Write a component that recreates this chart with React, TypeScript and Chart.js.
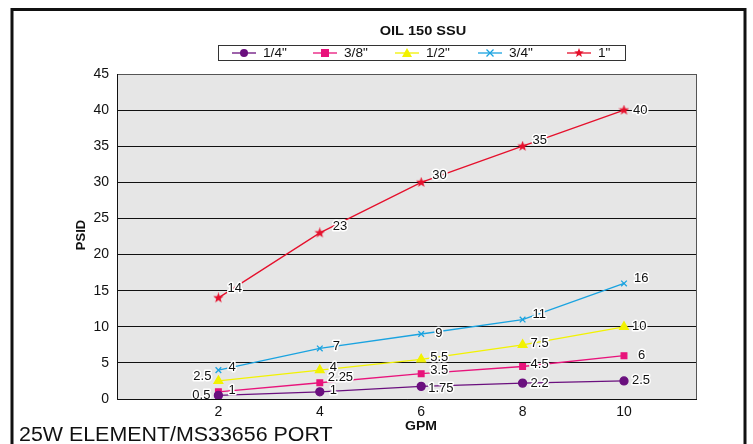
import React, { useEffect, useRef } from "react";
import { Chart, registerables } from "chart.js";
Chart.register(...registerables);

// ---- data ----
const gpm = [2, 4, 6, 8, 10];
const seriesNames = ['1/4"', '3/8"', '1/2"', '3/4"', '1"'];
const quarterInch = [0.5, 1, 1.75, 2.2, 2.5];
const threeEighthInch = [1, 2.25, 3.5, 4.5, 6];
const halfInch = [2.5, 4, 5.5, 7.5, 10];
const threeQuarterInch = [4, 7, 9, 11, 16];
const oneInch = [14, 23, 30, 35, 40];
const xTickValues = [2, 4, 6, 8, 10];
const yTickValues = [0, 5, 10, 15, 20, 25, 30, 35, 40, 45];
const titleText = "OIL 150 SSU";
const xTitle = "GPM";
const yTitle = "PSID";
const footerText = "25W ELEMENT/MS33656 PORT";

// ---- styles ----
const colors = ["#6a0f7e", "#e8137b", "#f2f200", "#1aa3e0", "#e5102c"];
const FONT = "'Liberation Sans', Arial, Helvetica, sans-serif";
// label offsets [dx, dy, align] per series per point
const labelOffsets: [number, number, CanvasTextAlign][][] = [
  [[-8, 0, "right"], [10, -1, "left"], [7, 2, "left"], [8, 0, "left"], [8, -1, "left"]],
  [[10, -1, "left"], [8, -5, "left"], [9, -3, "left"], [8, -2, "left"], [14, 0, "left"]],
  [[-7, -5, "right"], [10, -3, "left"], [9, -2, "left"], [8, -1, "left"], [8, 0, "left"]],
  [[10, -3, "left"], [13, -2, "left"], [14, -1, "left"], [10, -5, "left"], [10, -5, "left"]],
  [[9, -9, "left"], [13, -6, "left"], [11, -7, "left"], [10, -6, "left"], [9, 0, "left"]],
];

function makeStar(size: number, color: string) {
  const c = document.createElement("canvas");
  c.width = size;
  c.height = size;
  const ctx = c.getContext("2d")!;
  drawStar(ctx, size / 2, size / 2, size / 2, color);
  return c;
}
function drawStar(ctx: CanvasRenderingContext2D, cx: number, cy: number, r: number, color: string) {
  ctx.save();
  ctx.beginPath();
  for (let i = 0; i < 10; i++) {
    const rad = i % 2 === 0 ? r : r * 0.42;
    const a = -Math.PI / 2 + (i * Math.PI) / 5;
    const x = cx + rad * Math.cos(a);
    const y = cy + rad * Math.sin(a);
    if (i === 0) ctx.moveTo(x, y);
    else ctx.lineTo(x, y);
  }
  ctx.closePath();
  ctx.fillStyle = color;
  ctx.fill();
  ctx.restore();
}

function drawMarker(ctx: CanvasRenderingContext2D, i: number, x: number, y: number) {
  ctx.save();
  ctx.fillStyle = colors[i];
  ctx.strokeStyle = colors[i];
  ctx.lineWidth = 1.3;
  if (i === 0) {
    ctx.beginPath();
    ctx.arc(x, y, 4, 0, Math.PI * 2);
    ctx.fill();
  } else if (i === 1) {
    ctx.fillRect(x - 4, y - 4, 8, 8);
  } else if (i === 2) {
    ctx.beginPath();
    ctx.moveTo(x, y - 5);
    ctx.lineTo(x + 5, y + 4);
    ctx.lineTo(x - 5, y + 4);
    ctx.closePath();
    ctx.fill();
  } else if (i === 3) {
    ctx.beginPath();
    ctx.moveTo(x - 3.5, y - 3.5);
    ctx.lineTo(x + 3.5, y + 3.5);
    ctx.moveTo(x + 3.5, y - 3.5);
    ctx.lineTo(x - 3.5, y + 3.5);
    ctx.stroke();
  } else {
    drawStar(ctx, x, y, 5, colors[i]);
  }
  ctx.restore();
}

function drawScaledText(
  ctx: CanvasRenderingContext2D,
  text: string,
  x: number,
  y: number,
  sx: number,
  align: CanvasTextAlign
) {
  ctx.save();
  ctx.translate(x, y);
  ctx.scale(sx, 1);
  ctx.textAlign = align;
  ctx.fillText(text, 0, 0);
  ctx.restore();
}

export default function App() {
  const ref = useRef<HTMLCanvasElement>(null);
  useEffect(() => {
    const allSeries = [quarterInch, threeEighthInch, halfInch, threeQuarterInch, oneInch];
    const star = makeStar(11, colors[4]);
    const pointStyles: any[] = ["circle", "rect", "triangle", "crossRot", star];
    const radii = [4, 4, 5, 4, 6];

    const decor = {
      id: "decor",
      beforeDraw(chart: any) {
        const { ctx, chartArea: a } = chart;
        ctx.save();
        ctx.fillStyle = "#fff";
        ctx.fillRect(0, 0, chart.width, chart.height);
        ctx.fillStyle = "#e6e6e6";
        ctx.fillRect(a.left, a.top, a.right - a.left, a.bottom - a.top);
        ctx.restore();
      },
      afterDatasetsDraw(chart: any) {
        const { ctx } = chart;
        ctx.save();
        ctx.font = `13px ${FONT}`;
        ctx.textBaseline = "middle";
        chart.data.datasets.forEach((ds: any, si: number) => {
          const meta = chart.getDatasetMeta(si);
          meta.data.forEach((pt: any, pi: number) => {
            const [dx, dy, align] = labelOffsets[si][pi];
            const text = String(ds.data[pi].y);
            ctx.textAlign = align;
            ctx.lineWidth = 3;
            ctx.strokeStyle = "#fff";
            ctx.lineJoin = "round";
            ctx.strokeText(text, pt.x + dx, pt.y + dy);
            ctx.fillStyle = "#111";
            ctx.fillText(text, pt.x + dx, pt.y + dy);
          });
        });
        ctx.restore();
      },
      afterDraw(chart: any) {
        const { ctx, chartArea: a } = chart;
        ctx.save();
        // plot border
        ctx.strokeStyle = "#555";
        ctx.lineWidth = 1;
        ctx.strokeRect(a.left + 0.5, a.top + 0.5, a.right - a.left - 1, a.bottom - a.top);
        ctx.strokeStyle = "#111";
        ctx.beginPath();
        ctx.moveTo(a.left + 0.5, a.top);
        ctx.lineTo(a.left + 0.5, a.bottom + 0.5);
        ctx.lineTo(a.right, a.bottom + 0.5);
        ctx.stroke();
        // outer frame
        ctx.strokeStyle = "#111";
        ctx.lineWidth = 3;
        ctx.strokeRect(12, 9.5, 733, 450);
        // title
        ctx.fillStyle = "#111";
        ctx.textBaseline = "middle";
        ctx.font = `bold 13px ${FONT}`;
        drawScaledText(ctx, titleText, 423, 31, 1.12, "center");
        drawScaledText(ctx, xTitle, 421, 426, 1.08, "center");
        ctx.save();
        ctx.translate(81, 235);
        ctx.rotate(-Math.PI / 2);
        ctx.textAlign = "center";
        ctx.fillText(yTitle, 0, 0);
        ctx.restore();
        // legend
        ctx.lineWidth = 1;
        ctx.strokeStyle = "#333";
        ctx.strokeRect(218.5, 45.5, 407, 15);
        const legX = [232, 313, 395, 478, 567];
        ctx.font = `13px ${FONT}`;
        ctx.textAlign = "left";
        seriesNames.forEach((name, i) => {
          const x = legX[i];
          const y = 53;
          ctx.strokeStyle = colors[i];
          ctx.lineWidth = 1.3;
          ctx.beginPath();
          ctx.moveTo(x, y);
          ctx.lineTo(x + 24, y);
          ctx.stroke();
          drawMarker(ctx, i, x + 12, y);
          ctx.fillStyle = "#111";
          drawScaledText(ctx, name, x + 31, y, 1.05, "left");
        });
        // footer
        ctx.font = `20px ${FONT}`;
        ctx.textBaseline = "alphabetic";
        drawScaledText(ctx, footerText, 19, 441, 1.07, "left");
        ctx.restore();
      },
    };

    const chart = new Chart(ref.current!, {
      type: "line",
      data: {
        datasets: allSeries.map((vals, i) => ({
          label: seriesNames[i],
          data: gpm.map((g, j) => ({ x: g, y: vals[j] })),
          borderColor: colors[i],
          backgroundColor: colors[i],
          borderWidth: 1.3,
          pointStyle: pointStyles[i],
          pointRadius: radii[i],
          pointBorderWidth: 1.3,
          pointBorderColor: colors[i],
          pointBackgroundColor: colors[i],
          tension: 0,
          fill: false,
        })),
      },
      options: {
        responsive: false,
        animation: false,
        devicePixelRatio: 1,
        layout: { padding: { left: 0, top: 74, right: 56, bottom: 0 } },
        plugins: { legend: { display: false }, title: { display: false }, tooltip: { enabled: false } },
        scales: {
          x: {
            type: "linear",
            min: 0,
            max: 11.44,
            afterFit(s: any) {
              s.height = 45;
            },
            afterBuildTicks(s: any) {
              s.ticks = xTickValues.map((v) => ({ value: v }));
            },
            grid: { display: false, drawTicks: false },
            border: { display: false },
            ticks: { font: { family: FONT, size: 14 }, color: "#111", padding: 5 },
          },
          y: {
            type: "linear",
            min: 0,
            max: 45,
            afterFit(s: any) {
              s.width = 117;
            },
            afterBuildTicks(s: any) {
              s.ticks = yTickValues.map((v) => ({ value: v }));
            },
            grid: {
              drawTicks: false,
              color: (c: any) => (c.tick && c.tick.value === 45 ? "#666" : "#111"),
              lineWidth: 1,
            },
            border: { display: false },
            ticks: { font: { family: FONT, size: 14 }, color: "#111", padding: 8 },
          },
        },
      },
      plugins: [decor],
    });
    return () => chart.destroy();
  }, []);
  return (
    <div style={{ position: "absolute", left: 0, top: 0, width: 753, height: 444 }}>
      <canvas ref={ref} width={753} height={444} />
    </div>
  );
}
